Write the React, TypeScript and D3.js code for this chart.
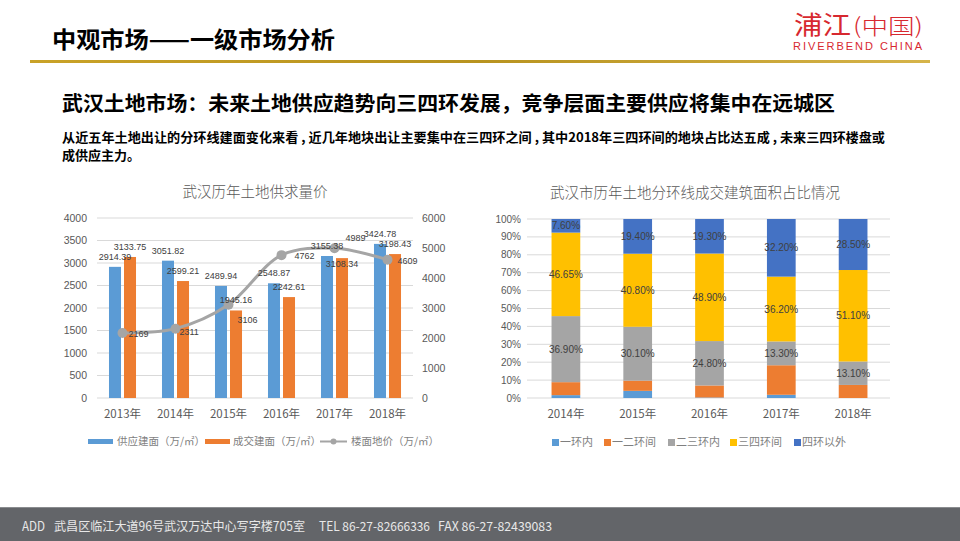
import React from 'react';
import * as d3 from 'd3';

// 武汉历年土地供求量价
const years = ['2013年', '2014年', '2015年', '2016年', '2017年', '2018年'];
const supplyArea = [2914.39, 3051.82, 2489.94, 2548.87, 3155.38, 3424.78];
const dealArea = [3133.75, 2599.21, 1945.16, 2242.61, 3108.34, 3198.43];
const floorPrice = [2169, 2311, 3106, 4762, 4989, 4609];
const leftTicks = [0, 500, 1000, 1500, 2000, 2500, 3000, 3500, 4000];
const rightTicks = [0, 1000, 2000, 3000, 4000, 5000, 6000];

// 武汉市历年土地分环线成交建筑面积占比情况 (percent)
const ringYears = ['2014年', '2015年', '2016年', '2017年', '2018年'];
const ringNames = ['一环内', '一二环间', '二三环内', '三四环间', '四环以外'];
const ring1 = [1.6, 4.0, 0.3, 1.8, 0];
const ring12 = [7.25, 5.7, 6.7, 16.5, 7.3];
const ring23 = [36.9, 30.1, 24.8, 13.3, 13.1];
const ring34 = [46.65, 40.8, 48.9, 36.2, 51.1];
const ringOut = [7.6, 19.4, 19.3, 32.2, 28.5];
const pctTicks = [0, 0.1, 0.2, 0.3, 0.4, 0.5, 0.6, 0.7, 0.8, 0.9, 1];

const BLUE = '#5B9BD5';
const ORANGE = '#ED7D31';
const GRAY = '#A5A5A5';
const GOLD = '#FFC000';
const DARKBLUE = '#4472C4';
const ringColors = [BLUE, ORANGE, GRAY, GOLD, DARKBLUE];

const AXIS_TXT = '#595959';
const LABEL_TXT = '#404040';
const GRID = '#D9D9D9';
const CJK = '"Noto Sans CJK SC", "Noto Sans", sans-serif';
const NUM = '"Liberation Sans", Arial, sans-serif';

// hand-placed label nudges (dx, dy) for the price line, and dy for deal labels
const priceLabelNudge: [number, number][] = [[6, 1], [4, 3], [9, 15], [13, 1], [11, -10], [10, 1]];
const dealLabelNudge = [0, 0, 0, 0, 16, 0];

const SupplyChart = () => {
  const x = d3.scaleBand<string>().domain(years).range([96, 414]).padding(0);
  const sub = d3.scaleBand<string>()
    .domain(['supply', 'deal'])
    .range([x.bandwidth() * 0.245, x.bandwidth() * 0.755])
    .paddingInner(0.2);
  const yL = d3.scaleLinear().domain([0, 4000]).range([398, 218]);
  const yR = d3.scaleLinear().domain([0, 6000]).range([398, 218]);
  const cx = (y: string) => (x(y) ?? 0) + x.bandwidth() / 2;

  const line = d3.line<number>()
    .x((_, i) => cx(years[i]))
    .y(d => yR(d))
    .curve(d3.curveCatmullRom.alpha(0.5));

  const series = [
    { key: 'supply', values: supplyArea, color: BLUE, nudge: [0, 0, 0, 0, 0, 0] },
    { key: 'deal', values: dealArea, color: ORANGE, nudge: dealLabelNudge },
  ];

  return (
    <g>
      <text x={255} y={197} textAnchor="middle" fontFamily={CJK} fontSize={14.5} fill={AXIS_TXT} fontWeight={300}>
        武汉历年土地供求量价
      </text>
      {leftTicks.map(t => (
        <g key={t}>
          <line x1={97} x2={413} y1={yL(t)} y2={yL(t)} stroke={GRID} strokeWidth={1} />
          <text x={87} y={yL(t)} dy="0.35em" textAnchor="end" fontFamily={NUM} fontSize={10.5} fill={AXIS_TXT}>{t}</text>
        </g>
      ))}
      {rightTicks.map(t => (
        <text key={t} x={422} y={yR(t)} dy="0.35em" fontFamily={NUM} fontSize={10.5} fill={AXIS_TXT}>{t}</text>
      ))}
      {series.map(s => (
        <g key={s.key}>
          {s.values.map((v, i) => (
            <rect key={i}
              x={(x(years[i]) ?? 0) + (sub(s.key) ?? 0)}
              y={yL(v)}
              width={sub.bandwidth()}
              height={yL(0) - yL(v)}
              fill={s.color} />
          ))}
        </g>
      ))}
      <path d={line(floorPrice) ?? ''} fill="none" stroke={GRAY} strokeWidth={3} />
      {floorPrice.map((v, i) => (
        <circle key={i} cx={cx(years[i])} cy={yR(v)} r={5} fill={GRAY} />
      ))}
      {series.map(s => s.values.map((v, i) => (
        <text key={s.key + i}
          x={(x(years[i]) ?? 0) + (sub(s.key) ?? 0) + sub.bandwidth() / 2}
          y={yL(v) - 7 + s.nudge[i]}
          textAnchor="middle" fontFamily={NUM} fontSize={9} fill={LABEL_TXT}>
          {v.toFixed(2)}
        </text>
      )))}
      {floorPrice.map((v, i) => (
        <text key={'p' + i}
          x={cx(years[i]) + priceLabelNudge[i][0]}
          y={yR(v) + priceLabelNudge[i][1]}
          dy="0.35em" fontFamily={NUM} fontSize={9} fill={LABEL_TXT}>{v}</text>
      ))}
      {years.map(y => (
        <text key={y} x={cx(y)} y={418} textAnchor="middle" fontFamily={CJK} fontSize={11.5} fill={AXIS_TXT}>{y}</text>
      ))}
      {/* legend */}
      <rect x={88} y={439} width={25} height={5} fill={BLUE} />
      <text x={117} y={441} dy="0.35em" fontFamily={CJK} fontSize={10.5} fill="#7f7f7f">供应建面（万/㎡）</text>
      <rect x={205} y={439} width={25} height={5} fill={ORANGE} />
      <text x={233} y={441} dy="0.35em" fontFamily={CJK} fontSize={10.5} fill="#7f7f7f">成交建面（万/㎡）</text>
      <line x1={320} x2={347} y1={441.5} y2={441.5} stroke={GRAY} strokeWidth={2} />
      <circle cx={333.5} cy={441.5} r={3} fill={GRAY} />
      <text x={351} y={441} dy="0.35em" fontFamily={CJK} fontSize={10.5} fill="#7f7f7f">楼面地价（万/㎡）</text>
    </g>
  );
};

const RingChart = () => {
  const x = d3.scaleBand<string>().domain(ringYears).range([530, 889]).paddingInner(0.6).paddingOuter(0.3);
  const y = d3.scaleLinear().domain([0, 1]).range([398, 219]);

  const rows = ringYears.map((yr, i) => ({
    year: yr,
    一环内: ring1[i],
    一二环间: ring12[i],
    二三环内: ring23[i],
    三四环间: ring34[i],
    四环以外: ringOut[i],
  }));
  // normalise each year to 100%
  const norm = rows.map(r => {
    const total = ringNames.reduce((s, k) => s + (r as any)[k], 0);
    const o: any = { year: r.year };
    ringNames.forEach(k => { o[k] = (r as any)[k] / total; o['raw_' + k] = (r as any)[k]; });
    return o;
  });
  const stacked = d3.stack<any>().keys(ringNames)(norm);
  const labelled = new Set(['二三环内', '三四环间', '四环以外']);

  return (
    <g>
      <text x={695} y={198} textAnchor="middle" fontFamily={CJK} fontSize={14.5} fill={AXIS_TXT} fontWeight={300}>
        武汉市历年土地分环线成交建筑面积占比情况
      </text>
      {pctTicks.map(t => (
        <g key={t}>
          <line x1={527} x2={890} y1={y(t)} y2={y(t)} stroke={GRID} strokeWidth={1} />
          <text x={521} y={y(t)} dy="0.35em" textAnchor="end" fontFamily={NUM} fontSize={10} fill={AXIS_TXT}>
            {d3.format('.0%')(t)}
          </text>
        </g>
      ))}
      {stacked.map((layer, li) => (
        <g key={layer.key} fill={ringColors[li]}>
          {layer.map((d, i) => (
            <rect key={i} x={x(ringYears[i])} y={y(d[1])} width={x.bandwidth()} height={y(d[0]) - y(d[1])} />
          ))}
        </g>
      ))}
      {stacked.filter(l => labelled.has(l.key)).map(layer => layer.map((d, i) => (
        <text key={layer.key + i}
          x={(x(ringYears[i]) ?? 0) + x.bandwidth() / 2}
          y={y((d[0] + d[1]) / 2)}
          dy="0.35em" textAnchor="middle" fontFamily={NUM} fontSize={10} fill={LABEL_TXT}>
          {(d.data['raw_' + layer.key] as number).toFixed(2)}%
        </text>
      )))}
      {ringYears.map(yr => (
        <text key={yr} x={(x(yr) ?? 0) + x.bandwidth() / 2} y={418} textAnchor="middle" fontFamily={CJK} fontSize={11.5} fill={AXIS_TXT}>{yr}</text>
      ))}
      {ringNames.map((n, i) => {
        const lx = [552, 604, 668, 730, 794][i];
        return (
          <g key={n}>
            <rect x={lx} y={439} width={7} height={7} fill={ringColors[i]} />
            <text x={lx + 8} y={442.5} dy="0.35em" fontFamily={CJK} fontSize={11} fill="#7f7f7f">{n}</text>
          </g>
        );
      })}
    </g>
  );
};

export default function App() {
  const footer = { fontFamily: CJK, fontSize: 12.5, fill: '#e8e8e8', lengthAdjust: 'spacingAndGlyphs' as const };
  return (
    <svg width={960} height={541} style={{ position: 'absolute', left: 0, top: 0, background: '#fff' }}>
      <defs>
        <linearGradient id="gold-rule" x1="0" x2="1" y1="0" y2="0">
          <stop offset="0%" stopColor="#c9a227" />
          <stop offset="50%" stopColor="#b8931f" />
          <stop offset="100%" stopColor="#d6b44a" />
        </linearGradient>
      </defs>
      <rect width={960} height={541} fill="#fff" />

      {/* header */}
      <text x={52} y={48} fontFamily={CJK} fontSize={23} fontWeight={700} fill="#000" textLength={283} lengthAdjust="spacingAndGlyphs">
        中观市场——一级市场分析
      </text>
      <text x={794} y={34} fontFamily={CJK} fontSize={25} fill="#d7282f" fontWeight={400} textLength={57} lengthAdjust="spacingAndGlyphs">浦江</text>
      <text x={853} y={34} fontFamily={CJK} fontSize={22} fill="#d7282f" fontWeight={300} textLength={70} lengthAdjust="spacingAndGlyphs">(中国)</text>
      <text x={793} y={49.5} fontFamily={NUM} fontSize={11} fill="#d7282f" textLength={129}>RIVERBEND CHINA</text>
      <rect x={30} y={60} width={900} height={3} fill="url(#gold-rule)" />

      {/* headline */}
      <text x={62} y={111} fontFamily={CJK} fontSize={20.5} fontWeight={700} fill="#000" textLength={773} lengthAdjust="spacingAndGlyphs">
        武汉土地市场：未来土地供应趋势向三四环发展，竞争层面主要供应将集中在远城区
      </text>
      <text x={62} y={142} fontFamily={CJK} fontSize={13} fontWeight={700} fill="#000" textLength={823} lengthAdjust="spacingAndGlyphs">
        从近五年土地出让的分环线建面变化来看 , 近几年地块出让主要集中在三四环之间 , 其中2018年三四环间的地块占比达五成 , 未来三四环楼盘或
      </text>
      <text x={62} y={160} fontFamily={CJK} fontSize={13} fontWeight={700} fill="#000">成供应主力。</text>

      <SupplyChart />
      <RingChart />

      {/* footer */}
      <rect x={0} y={507} width={960} height={34} fill="#636569" />
      <rect x={0} y={507} width={960} height={1} fill="#8a8c8f" />
      <text x={22} y={531} {...footer} textLength={23}>ADD</text>
      <text x={54} y={531} {...footer} textLength={251}>武昌区临江大道96号武汉万达中心写字楼705室</text>
      <text x={319} y={531} {...footer} textLength={111}>TEL  86-27-82666336</text>
      <text x={438} y={531} {...footer} textLength={114}>FAX  86-27-82439083</text>
    </svg>
  );
}
